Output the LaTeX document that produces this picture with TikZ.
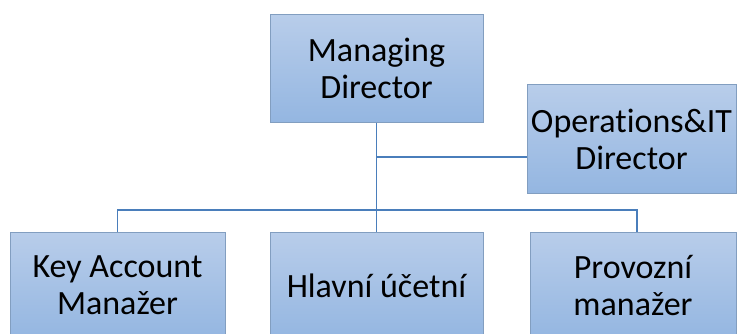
\documentclass[tikz,border=0pt]{standalone}
\usepackage{fontspec}
\setmainfont{Carlito}[Ligatures=NoCommon]
\definecolor{boxtop}{RGB}{184,205,234}
\definecolor{boxbot}{RGB}{148,182,225}
\definecolor{boxedge}{RGB}{130,158,192}
\definecolor{linkc}{RGB}{74,126,187}
\begin{document}
\begin{tikzpicture}[x=1pt,y=-1pt,
  box/.style={draw=boxedge, line width=1pt, top color=boxtop, bottom color=boxbot,
    align=center, inner sep=0pt, font=\fontsize{34}{37}\selectfont, text=black},
  link/.style={draw=linkc, line width=1.6pt}]
\useasboundingbox (0,0) rectangle (738,334);
\clip (0,0) rectangle (738,334);
\node[box, minimum width=213pt, minimum height=107pt] (md) at (376.5,68.5) {Managing\\Director};
\node[box, minimum width=209pt, minimum height=108pt] (ops) at (631.5,139) {Operat\kern0pt ions\&IT\\Director};
\node[box, minimum width=215pt, minimum height=107pt] (ka) at (117.5,285.5) {Key Account\\Manažer};
\node[box, minimum width=213pt, minimum height=107pt] (hl) at (376.5,285.5) {Hlavní účetní};
\node[box, minimum width=206pt, minimum height=107pt] (pm) at (633,285.5) {Provozní\\manažer};
\coordinate (j1) at (376.5,157);
\coordinate (bR) at (637,210);
\draw[link] (md.south) -- (hl.north);
\draw[link] (j1) -- (j1 -| ops.west);
\draw[link] (ka.north) |- (bR) -- (bR |- pm.north);
\end{tikzpicture}
\end{document}
